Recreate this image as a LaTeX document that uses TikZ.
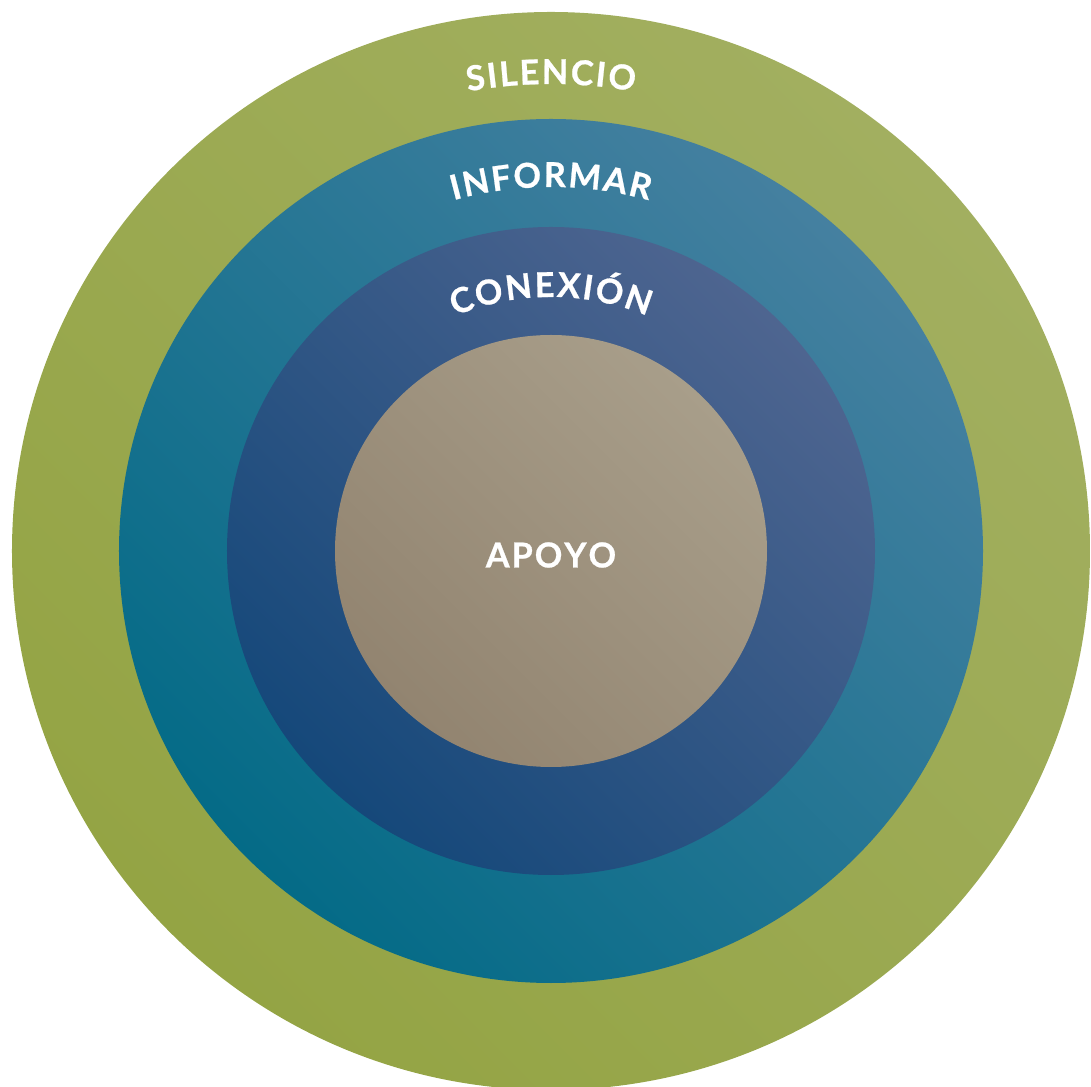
\documentclass[tikz,border=0pt]{standalone}
\usepackage{fontspec}
\newfontfamily\ringfam{Lato Bold}[FakeBold=0.7]
\usetikzlibrary{decorations.text}

\definecolor{silencioDark}{HTML}{94A444}
\definecolor{silencioLight}{HTML}{A2AF60}
\definecolor{informarDark}{HTML}{046B87}
\definecolor{informarLight}{HTML}{4580A0}
\definecolor{conexionDark}{HTML}{15487A}
\definecolor{conexionLight}{HTML}{4E6590}
\definecolor{apoyoDark}{HTML}{928470}
\definecolor{apoyoLight}{HTML}{A89E8A}

\newcommand{\ringfont}{\ringfam\fontsize{19.5}{21}\selectfont}
\newcommand{\ls}{\kern1.1pt}

\tikzset{
    ring/.style n args={2}{left color=#1, right color=#2, shading angle=135},
    ringlabel/.style={decorate, decoration={text along path, text color=white,
        text align=center, text={|\ringfont|#1}}}
}

\begin{document}
\begin{tikzpicture}[x=0.02cm,y=0.02cm]

    \useasboundingbox (-551,-536) rectangle (540,551);

    % Draw the circles
    \coordinate (c) at (0,0);
    \shade[ring={silencioDark}{silencioLight}] (c) circle[radius=539];
    \shade[ring={informarDark}{informarLight}] (c) circle[radius=432];
    \shade[ring={conexionDark}{conexionLight}] (c) circle[radius=324];
    \shade[ring={apoyoDark}{apoyoLight}] (c) circle[radius=216];

    % Labels along the rings
    \path[ringlabel={{S\ls}{I\ls}{L\ls}{E\ls}{N\ls}{C\ls}{I\ls}O}]
        (130:467) arc[start angle=130, end angle=50, radius=467];
    \path[ringlabel={{I\ls}{N\ls}{F\ls}{O\ls}{R\ls}{M\ls}{A\ls}R}]
        (135:364) arc[start angle=135, end angle=45, radius=364];
    \path[ringlabel={{C\ls}{O\ls}{N\ls}{E\ls}{X\ls}{I\ls}{Ó\ls}N}]
        (145:254) arc[start angle=145, end angle=35, radius=254];

    % Finally the centre
    \node[text=white, font=\ringfont] (apoyo) at (0,-4) {A\ls P\ls O\ls Y\ls O};

\end{tikzpicture}
\end{document}
